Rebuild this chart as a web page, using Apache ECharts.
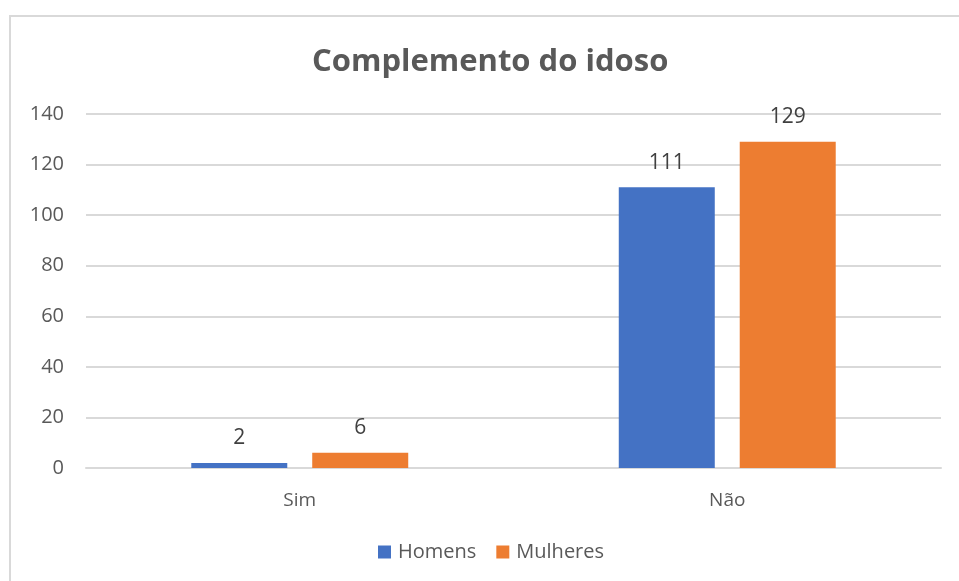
<!DOCTYPE html>
<html>
<head>
<meta charset="utf-8">
<script src="https://cdn.jsdelivr.net/npm/echarts@6/dist/echarts.min.js"></script>
<style>
html,body{margin:0;padding:0;background:#fff;}
#frame{position:absolute;left:9px;top:15px;width:950px;height:566px;border-top:2px solid #d9d9d9;border-left:2px solid #d9d9d9;box-sizing:border-box;}
#main{position:absolute;left:0;top:0;width:959px;height:581px;}
</style>
</head>
<body>
<div id="frame"></div>
<div id="main"></div>
<script>
// dados
const categories = ['Sim', 'Não'];
const homens = [2, 111];
const mulheres = [6, 129];
const yTicks = [0, 20, 40, 60, 80, 100, 120, 140];

const textColor = '#595959';
const fontFam = '"Open Sans", "Noto Sans", sans-serif';

const chart = echarts.init(document.getElementById('main'), null, {renderer: 'canvas'});
chart.setOption({
    animation: false,
    title: {
        text: 'Complemento do idoso',
        left: 307,
        top: 42,
        textStyle: {fontFamily: fontFam, fontSize: 31, fontWeight: 'bold', color: textColor}
    },
    legend: {
        data: ['Homens', 'Mulheres'],
        bottom: 14,
        left: 373,
        itemWidth: 13,
        itemHeight: 13,
        itemGap: 20,
        icon: 'rect',
        textStyle: {fontFamily: fontFam, fontSize: 20, color: textColor, padding: [0, 0, 0, 2]}
    },
    grid: {left: 86, right: 18, top: 114, bottom: 113},
    xAxis: {
        type: 'category',
        data: categories,
        axisLine: {show: true, lineStyle: {color: '#d9d9d9', width: 2}},
        axisTick: {show: false},
        axisLabel: {fontFamily: fontFam, fontSize: 19, color: textColor, margin: 23}
    },
    yAxis: {
        type: 'value',
        min: yTicks[0],
        max: yTicks[yTicks.length - 1],
        interval: 20,
        axisLine: {show: false},
        axisTick: {show: false},
        splitLine: {lineStyle: {color: '#d9d9d9', width: 2}},
        axisLabel: {fontFamily: fontFam, fontSize: 20, color: textColor, margin: 22}
    },
    series: [
        {
            name: 'Homens',
            type: 'bar',
            data: homens,
            barWidth: 96,
            barGap: '26%',
            itemStyle: {color: '#4472c4'},
            label: {show: true, position: 'top', distance: 14, fontFamily: fontFam, fontSize: 21, color: '#404040'}
        },
        {
            name: 'Mulheres',
            type: 'bar',
            data: mulheres,
            barWidth: 96,
            itemStyle: {color: '#ed7d31'},
            label: {show: true, position: 'top', distance: 14, fontFamily: fontFam, fontSize: 21, color: '#404040'}
        }
    ]
});
</script>
</body>
</html>
